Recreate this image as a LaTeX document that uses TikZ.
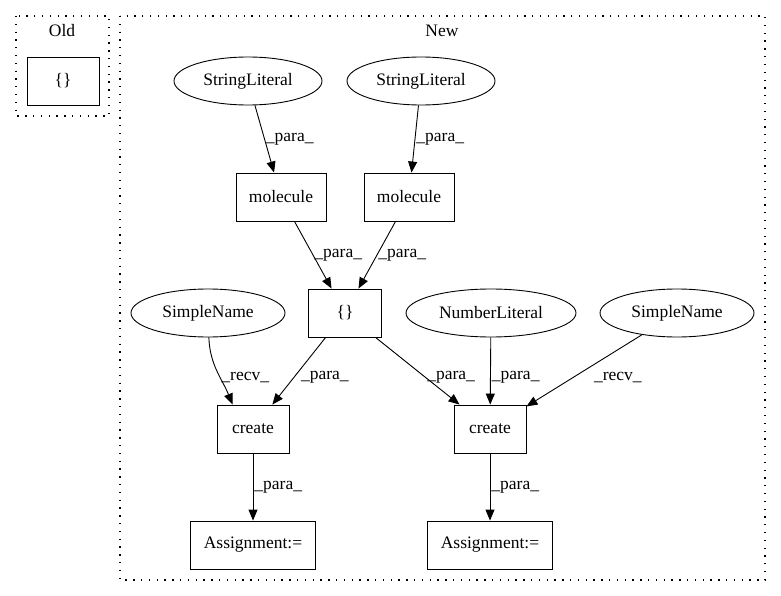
\documentclass[tikz,border=0pt]{standalone}
\usepackage{fontspec}
\setmainfont{Liberation Serif}
\usetikzlibrary{shapes.geometric,arrows.meta}
\begin{document}
\begin{tikzpicture}[x=1pt,y=-1pt,font=\fontsize{17.5}{20}\selectfont,
box/.style={draw,rectangle,line width=0.9pt,minimum height=48pt,inner sep=0pt},
oval/.style={draw,ellipse,line width=0.9pt,minimum height=48pt,inner sep=0pt},
clus/.style={draw,line width=1.3pt,dash pattern=on 1.3pt off 6.5pt},
edge/.style={line width=0.9pt,-{Triangle[length=11pt,width=9pt]}},
lbl/.style={right,inner sep=1pt}]
\useasboundingbox(0,0)rectangle(781,596);
\draw[clus](16,16)rectangle(109,116);
\draw[clus](120,16)rectangle(765,580);
\node(oldlb) at (62,31){Old};
\node(newlb) at (442,31){New};
\node[box,minimum width=72pt](oldset) at (63,81){\{\}};
\foreach \nm/\x in {sl1/248,sl2/421}{\node[oval,minimum width=148pt](\nm) at (\x,81){StringLiteral};}
\foreach \nm/\x in {mol1/281,mol2/409}{\node[box,minimum width=90pt](\nm) at (\x,197){molecule};}
\node[box,minimum width=73pt](set) at (345,313){\{\}};
\foreach \nm/\x/\w/\t in {sn1/208/154/SimpleName,nl/491/170/NumberLiteral,sn2/677/154/SimpleName}{\node[oval,minimum width=\w pt](\nm) at (\x,313){\t};}
\foreach \nm/\x in {cr1/253,cr2/490}{\node[box,minimum width=72pt](\nm) at (\x,429){create};}
\foreach \nm/\x in {as1/253,as2/490}{\node[box,minimum width=125pt](\nm) at (\x,545){Assignment:=};}
\foreach \a/\b/\p/\s in {sl1/mol1/0.5/0,sl2/mol2/0.5/0,mol1/set/0.5/0,mol2/set/0.5/0,set/cr1/0.6/6,set/cr2/0.6/0,nl/cr2/0.6/0,cr1/as1/0.5/0,cr2/as2/0.5/0}{\draw[edge](\a)--(\b)node[lbl,pos=\p,xshift=\s pt]{\_para\_};}
\draw[edge](sn1)to[out=-88,in=112]node[lbl,pos=0.6]{\_recv\_}([xshift=16pt]cr1.north west);
\draw[edge](sn2)--(cr2)node[lbl,pos=0.6,xshift=20pt]{\_recv\_};
\end{tikzpicture}
\end{document}
